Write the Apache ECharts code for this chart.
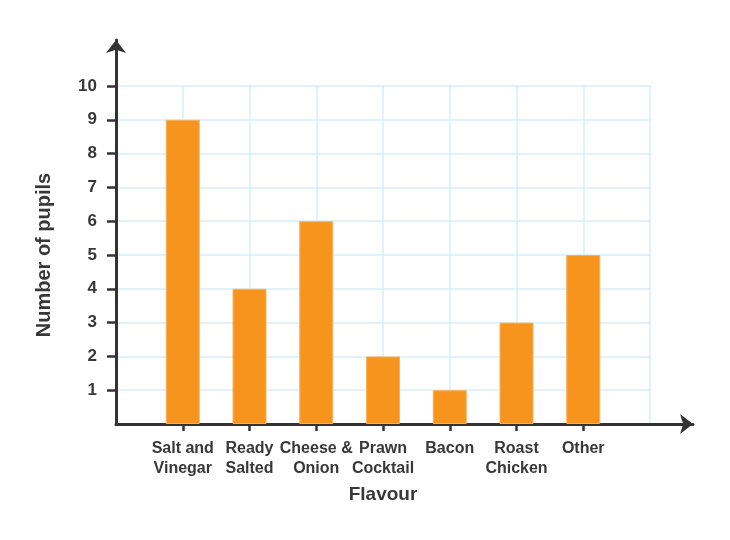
<!DOCTYPE html>
<html>
<head>
<meta charset="utf-8">
<script src="https://cdn.jsdelivr.net/npm/echarts@6/dist/echarts.min.js"></script>
<style>
  html, body { margin: 0; padding: 0; background: #fff; }
  #runChart { width: 730px; height: 540px; }
</style>
</head>
<body>
<div id="runChart"></div>
<script>
let flavours = ["Salt and\nVinegar", "Ready\nSalted", "Cheese &\nOnion", "Prawn\nCocktail", "Bacon", "Roast\nChicken", "Other"];
let pupils = [9, 4, 6, 2, 1, 3, 5];
let yTickValues = [1, 2, 3, 4, 5, 6, 7, 8, 9, 10];

// empty slot at each end so bars sit on the grid lines
let cats = [""].concat(flavours, [""]);
let values = ["-"].concat(pupils, ["-"]);

let textColor = "#383838";
let lineColor = "#333333";

let option = {
  animation: false,
  grid: [
    { left: 116, right: 80, top: 86, bottom: 116 },
    { left: 116, right: 37, top: 40, bottom: 116 }
  ],
  xAxis: [
    {
      type: "category",
      gridIndex: 0,
      boundaryGap: false,
      data: cats,
      name: "Flavour",
      nameLocation: "middle",
      nameGap: 61,
      nameTextStyle: { fontFamily: "Liberation Sans", fontWeight: "bold", fontSize: 19, color: textColor },
      axisLine: { show: false },
      axisTick: {
        show: true,
        length: 7,
        interval: function (i) { return i > 0 && i < cats.length - 1; },
        lineStyle: { color: lineColor, width: 2.5 }
      },
      axisLabel: {
        interval: 0,
        hideOverlap: false,
        margin: 15,
        lineHeight: 20,
        fontFamily: "Liberation Sans",
        fontWeight: "bold",
        fontSize: 16,
        color: textColor
      },
      splitLine: {
        show: true,
        interval: 0,
        lineStyle: { color: "#d6eef8", width: 1.5 }
      }
    },
    {
      type: "value",
      gridIndex: 1,
      min: 0,
      max: 1,
      axisLine: {
        show: true,
        symbol: ["none", "arrow"],
        symbolSize: [15, 13],
        lineStyle: { color: lineColor, width: 3 }
      },
      axisTick: { show: false },
      axisLabel: { show: false },
      splitLine: { show: false }
    }
  ],
  yAxis: [
    {
      type: "value",
      gridIndex: 0,
      min: 0,
      max: 10,
      interval: 1,
      name: "Number of pupils",
      nameLocation: "middle",
      nameRotate: 90,
      nameGap: 62,
      nameTextStyle: { fontFamily: "Liberation Sans", fontWeight: "bold", fontSize: 20, color: textColor },
      axisLine: { show: false },
      axisTick: {
        show: true,
        length: 9,
        customValues: yTickValues,
        lineStyle: { color: lineColor, width: 2.5 }
      },
      axisLabel: {
        margin: 19,
        customValues: yTickValues,
        fontFamily: "Liberation Sans",
        fontWeight: "bold",
        fontSize: 17,
        color: textColor
      },
      splitLine: { show: true, lineStyle: { color: "#d6eef8", width: 1.5 } }
    },
    {
      type: "value",
      gridIndex: 1,
      min: 0,
      max: 1,
      axisLine: {
        show: true,
        symbol: ["none", "arrow"],
        symbolSize: [15, 13],
        lineStyle: { color: lineColor, width: 3 }
      },
      axisTick: { show: false },
      axisLabel: { show: false },
      splitLine: { show: false }
    }
  ],
  series: [
    {
      name: "Number of pupils",
      type: "bar",
      xAxisIndex: 0,
      yAxisIndex: 0,
      data: values,
      barWidth: 34,
      itemStyle: { color: "#f7941e", borderColor: "#f9b15e", borderWidth: 1 }
    }
  ]
};

var myChart = echarts.init(document.getElementById("runChart"));
myChart.setOption(option);
</script>
</body>
</html>
